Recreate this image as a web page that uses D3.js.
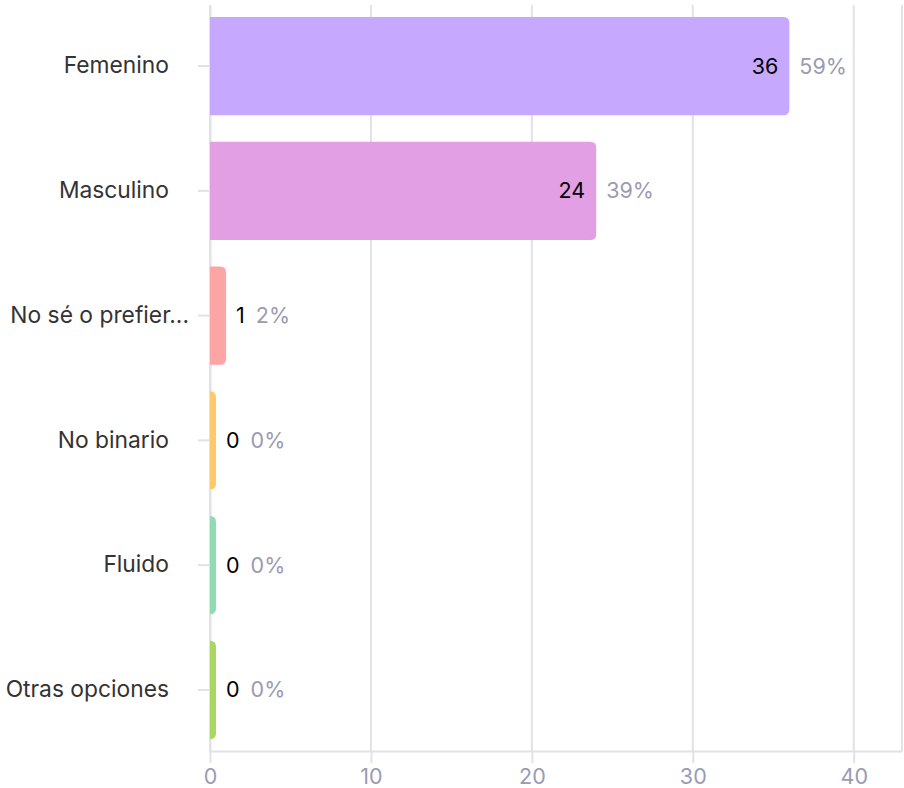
<!DOCTYPE html>
<html>
<head>
<meta charset="utf-8">
<script src="https://cdn.jsdelivr.net/npm/d3@7"></script>
<style>
  body { margin: 0; background: #fff; }
  svg text { font-family: 'Inter', 'Noto Sans', sans-serif; }
</style>
</head>
<body>
<div id="chart"></div>
<script>
// chart values
const categories = ['Femenino', 'Masculino', 'No sé o prefier...', 'No binario', 'Fluido', 'Otras opciones'];
const counts = [36, 24, 1, 0, 0, 0];
const percents = ['59%', '39%', '2%', '0%', '0%', '0%'];
const barColors = ['#c6a9ff', '#e29fe3', '#fda4a4', '#ffc86a', '#8fdcb2', '#a9d760'];
const tickValues = [0, 10, 20, 30, 40];

const width = 904, height = 788;
const margin = {top: 5, right: 2, bottom: 37, left: 210};
const fontSize = '21.5px';
const labelSize = '22.8px';

const svg = d3.select('#chart').append('svg')
    .attr('width', width)
    .attr('height', height);

const x = d3.scaleLinear()
    .domain([0, 43])
    .range([margin.left, width - margin.right]);

const y = d3.scaleBand()
    .domain(categories)
    .range([margin.top, height - margin.bottom])
    .paddingInner(0.213)
    .paddingOuter(0.096);

const gridColor = '#e1e1ea';

// vertical grid lines
svg.append('g')
    .selectAll('line')
    .data(tickValues)
    .enter()
    .append('line')
    .attr('x1', d => x(d))
    .attr('x2', d => x(d))
    .attr('y1', margin.top)
    .attr('y2', height - margin.bottom)
    .attr('stroke', gridColor)
    .attr('stroke-width', 2);

// right border
svg.append('line')
    .attr('x1', x.range()[1])
    .attr('x2', x.range()[1])
    .attr('y1', margin.top)
    .attr('y2', height - margin.bottom)
    .attr('stroke', gridColor)
    .attr('stroke-width', 2);

// x axis
const xAxis = svg.append('g')
    .attr('transform', 'translate(0,' + (height - margin.bottom) + ')')
    .call(d3.axisBottom(x).tickValues(tickValues).tickSizeInner(12).tickSizeOuter(0).tickPadding(6));
xAxis.select('.domain').attr('stroke', gridColor).attr('stroke-width', 2);
xAxis.selectAll('.tick line').attr('stroke', gridColor).attr('stroke-width', 2);
xAxis.selectAll('.tick text')
    .attr('fill', '#9b9bb1')
    .style('font-size', fontSize);

// y axis
const yAxis = svg.append('g')
    .attr('transform', 'translate(' + margin.left + ',0)')
    .call(d3.axisLeft(y).tickSizeInner(12).tickSizeOuter(0).tickPadding(29));
yAxis.select('.domain').attr('stroke', gridColor).attr('stroke-width', 2);
yAxis.selectAll('.tick line').attr('stroke', gridColor).attr('stroke-width', 2);
yAxis.selectAll('.tick text')
    .attr('fill', '#333333')
    .style('font-size', labelSize)
    // truncated label sits closer to the axis in the original
    .attr('dx', d => d.endsWith('...') ? 20 : 0);

// bars: square left edge, rounded right edge
const r = 6;
const minW = 6;
function barPath(d, i) {
    const x0 = x(0);
    const w = Math.max(x(d) - x0, minW);
    const y0 = y(categories[i]);
    const h = y.bandwidth();
    const rr = Math.min(r, w);
    return 'M' + x0 + ',' + y0 +
        'H' + (x0 + w - rr) +
        'Q' + (x0 + w) + ',' + y0 + ' ' + (x0 + w) + ',' + (y0 + rr) +
        'V' + (y0 + h - rr) +
        'Q' + (x0 + w) + ',' + (y0 + h) + ' ' + (x0 + w - rr) + ',' + (y0 + h) +
        'H' + x0 + 'Z';
}

const rows = svg.append('g')
    .selectAll('g.row')
    .data(counts)
    .enter()
    .append('g')
    .attr('class', 'row');

rows.append('path')
    .attr('d', barPath)
    .attr('fill', (d, i) => barColors[i]);

// value + percent labels
rows.each(function (d, i) {
    const g = d3.select(this);
    const end = x(0) + Math.max(x(d) - x(0), minW);
    const cy = y(categories[i]) + y.bandwidth() / 2;
    const inside = x(d) - x(0) > 40;
    const val = g.append('text')
        .attr('y', cy)
        .attr('dy', '0.35em')
        .attr('fill', '#000')
        .style('font-size', fontSize)
        .text(d);
    let pctX;
    if (inside) {
        val.attr('x', end - 11).attr('text-anchor', 'end');
        pctX = end + 10;
    } else {
        val.attr('x', end + 10);
        pctX = end + 10 + val.node().getComputedTextLength() + 11;
    }
    g.append('text')
        .attr('x', pctX)
        .attr('y', cy)
        .attr('dy', '0.35em')
        .attr('fill', '#9b9bb1')
        .style('font-size', fontSize)
        .text(percents[i]);
});
</script>
</body>
</html>
